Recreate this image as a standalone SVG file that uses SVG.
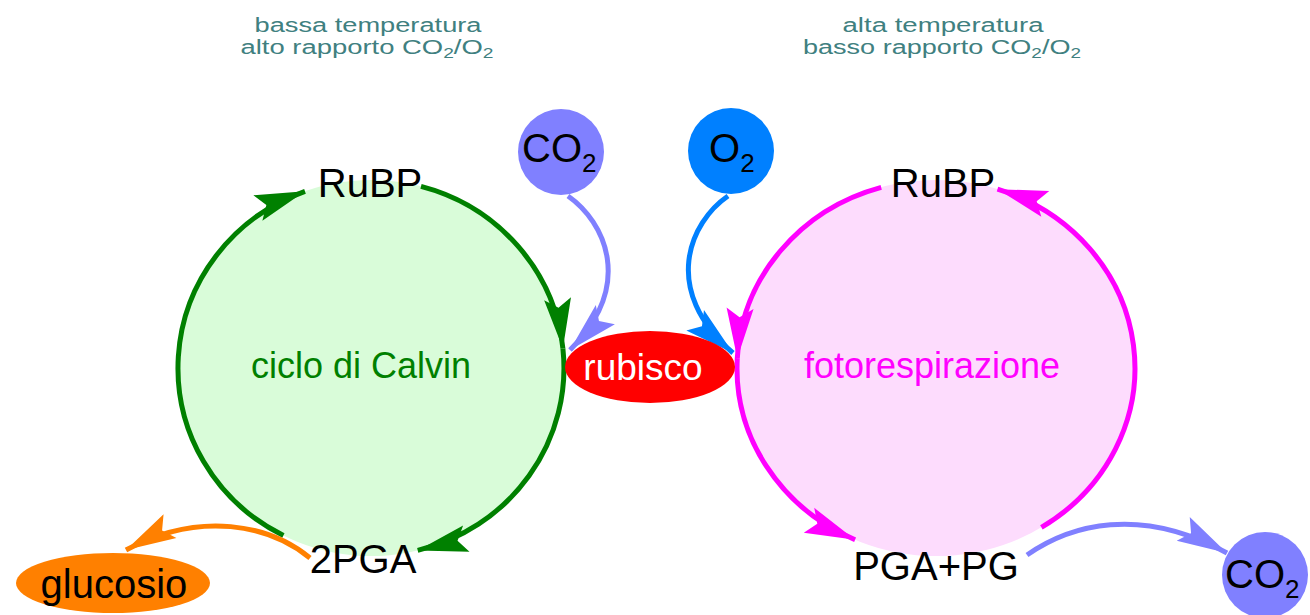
<svg xmlns="http://www.w3.org/2000/svg" width="1310" height="615" viewBox="0 0 1310 615">
<style>
text{font-family:"Liberation Sans",Arial,sans-serif}
.hdr{font-size:20px;fill:#408080;text-anchor:middle}
.lbl{font-size:40px;fill:#000}
.sub{font-size:26px}
.edge{fill:none;stroke-width:5}
</style>
<defs>
<marker id="ag" markerUnits="userSpaceOnUse" markerWidth="52" markerHeight="28" refX="50" refY="13.5" orient="auto" overflow="visible"><path d="M0,0 L50,13.5 L0,27 L9,13.5 Z" fill="#008000"/></marker>
<marker id="am" markerUnits="userSpaceOnUse" markerWidth="52" markerHeight="28" refX="50" refY="13.5" orient="auto" overflow="visible"><path d="M0,0 L50,13.5 L0,27 L9,13.5 Z" fill="#ff00ff"/></marker>
<marker id="ab" markerUnits="userSpaceOnUse" markerWidth="52" markerHeight="28" refX="50" refY="13.5" orient="auto" overflow="visible"><path d="M0,0 L50,13.5 L0,27 L9,13.5 Z" fill="#8080ff"/></marker>
<marker id="ao" markerUnits="userSpaceOnUse" markerWidth="52" markerHeight="28" refX="50" refY="13.5" orient="auto" overflow="visible"><path d="M0,0 L50,13.5 L0,27 L9,13.5 Z" fill="#0080ff"/></marker>
<marker id="ar" markerUnits="userSpaceOnUse" markerWidth="52" markerHeight="28" refX="50" refY="13.5" orient="auto" overflow="visible"><path d="M0,0 L50,13.5 L0,27 L9,13.5 Z" fill="#ff8000"/></marker>
</defs>
<rect width="1310" height="615" fill="#fff"/>

<g id="headers">
<text class="hdr" x="368" y="32" textLength="227" lengthAdjust="spacingAndGlyphs">bassa temperatura</text>
<text class="hdr" x="367" y="54" textLength="253" lengthAdjust="spacingAndGlyphs">alto rapporto CO<tspan font-size="14" dy="4">2</tspan><tspan dy="-4">/O</tspan><tspan font-size="14" dy="4">2</tspan></text>
<text class="hdr" x="943" y="32" textLength="201" lengthAdjust="spacingAndGlyphs">alta temperatura</text>
<text class="hdr" x="942" y="54" textLength="278" lengthAdjust="spacingAndGlyphs">basso rapporto CO<tspan font-size="14" dy="4">2</tspan><tspan dy="-4">/O</tspan><tspan font-size="14" dy="4">2</tspan></text>
</g>

<g id="calvin">
<ellipse cx="371" cy="368" rx="193" ry="188" fill="#d9fcd9"/>
<text x="361" y="378" font-size="36" fill="#008000" text-anchor="middle">ciclo di Calvin</text>
</g>
<g id="fotorespirazione">
<ellipse cx="936" cy="368" rx="199" ry="188" fill="#fddcfd"/>
<text x="932" y="378" font-size="36" fill="#ff00ff" text-anchor="middle">fotorespirazione</text>
</g>

<g id="connectors">
<path class="edge" stroke="#008000" d="M283.4,535.5 A193,188 0 0 1 305,191.3" marker-end="url(#ag)"/>
<path class="edge" stroke="#008000" d="M421,186.4 A193,188 0 0 1 562.9,348.4" marker-end="url(#ag)"/>
<path class="edge" stroke="#008000" d="M562.9,348.4 A193,188 0 0 1 417.7,550.4" marker-end="url(#ag)"/>
<path class="edge" stroke="#ff00ff" d="M881.2,187.3 A199,188 0 0 0 737.3,358.2" marker-end="url(#am)"/>
<path class="edge" stroke="#ff00ff" d="M737.3,358.2 A199,188 0 0 0 855.1,539.7" marker-end="url(#am)"/>
<path class="edge" stroke="#ff00ff" d="M1041.4,527.4 A199,188 0 0 0 997.5,189.2" marker-end="url(#am)"/>
<path class="edge" stroke="#8080ff" stroke-width="5.5" d="M568,196 C605,222 635,285 570,350" marker-end="url(#ab)"/>
<path class="edge" stroke="#0080ff" stroke-width="5.5" d="M728,196 C690,222 660,290 733,353" marker-end="url(#ao)"/>
<path class="edge" stroke="#ff8000" stroke-width="5" d="M310,558 C270,525 200,510 126,550" marker-end="url(#ar)"/>
<path class="edge" stroke="#8080ff" stroke-width="5.5" d="M1027,555 C1070,525 1140,505 1227,553" marker-end="url(#ab)"/>
</g>

<g id="rubisco">
<ellipse cx="650" cy="367" rx="85" ry="36" fill="#ff0000"/>
<text x="643" y="380" font-size="37" fill="#fff" text-anchor="middle">rubisco</text>
</g>
<g id="co2_in">
<circle cx="561" cy="152" r="43" fill="#8080ff"/>
<text class="lbl" x="522" y="162">CO<tspan class="sub" dy="10">2</tspan></text>
</g>
<g id="o2_in">
<circle cx="731" cy="151" r="43" fill="#0080ff"/>
<text class="lbl" x="709" y="162">O<tspan class="sub" dy="10">2</tspan></text>
</g>
<g id="rubp_left"><text class="lbl" x="370" y="197" text-anchor="middle">RuBP</text></g>
<g id="pga_left"><text class="lbl" x="363" y="573" text-anchor="middle">2PGA</text></g>
<g id="rubp_right"><text class="lbl" x="943" y="197" text-anchor="middle">RuBP</text></g>
<g id="pga_pg"><text class="lbl" x="936" y="580" text-anchor="middle">PGA+PG</text></g>
<g id="glucosio">
<ellipse cx="113" cy="583" rx="97" ry="30" fill="#ff8000"/>
<text class="lbl" x="114" y="598" text-anchor="middle">glucosio</text>
</g>
<g id="co2_out">
<circle cx="1265" cy="575" r="43" fill="#8080ff"/>
<text class="lbl" x="1225" y="588">CO<tspan class="sub" dy="10">2</tspan></text>
</g>
</svg>
